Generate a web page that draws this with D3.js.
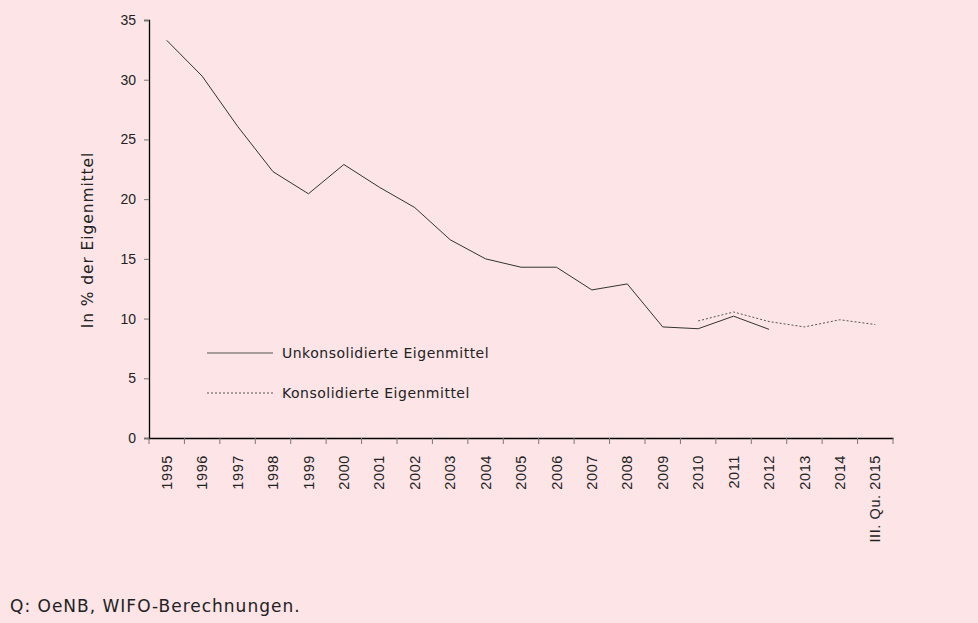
<!DOCTYPE html>
<html>
<head>
<meta charset="utf-8">
<script src="https://cdn.jsdelivr.net/npm/d3@7"></script>
<style>
  body { margin: 0; background: #fde4e6; }
  svg { display: block; font-family: "DejaVu Sans", sans-serif; }
</style>
</head>
<body>
<script>
// Data
const years = ["1995","1996","1997","1998","1999","2000","2001","2002","2003","2004",
  "2005","2006","2007","2008","2009","2010","2011","2012","2013","2014","III. Qu. 2015"];
const unkonsolidiert = [33.3, 30.3, 26.1, 22.3, 20.45, 22.9, 21.0, 19.3, 16.6, 15.0,
  14.3, 14.3, 12.4, 12.9, 9.3, 9.15, 10.2, 9.1, null, null, null];
const konsolidiert = [null, null, null, null, null, null, null, null, null, null,
  null, null, null, null, null, 9.8, 10.55, 9.75, 9.3, 9.9, 9.5];
const yTicks = [0, 5, 10, 15, 20, 25, 30, 35];

const width = 978, height = 623;
const margin = {top: 20, left: 149, right: 85, bottom: 185};

const svg = d3.select("body").append("svg")
  .attr("width", width)
  .attr("height", height);

const x = d3.scaleBand()
  .domain(years)
  .range([margin.left, width - margin.right]);

const y = d3.scaleLinear()
  .domain([0, 35])
  .range([height - margin.bottom, margin.top]);

// y axis
const yAxis = svg.append("g")
  .attr("transform", "translate(" + margin.left + ",0)")
  .call(d3.axisLeft(y).tickValues(yTicks).tickSize(5).tickPadding(8));
yAxis.select(".domain").attr("stroke", "#000").attr("stroke-width", 1.3);
yAxis.selectAll(".tick line").attr("stroke", "#777");
yAxis.selectAll("text").style("font-size", "14px").attr("fill", "#222");

// x axis, ticks at band edges
const xAxis = svg.append("g")
  .attr("transform", "translate(0," + y(0) + ")")
  .call(d3.axisBottom(x).tickSize(0).tickSizeOuter(0));
xAxis.select(".domain").attr("stroke", "#000").attr("stroke-width", 1.3);
xAxis.selectAll(".tick line").remove();
xAxis.selectAll(".edge")
  .data(years.concat(["end"]))
  .enter().append("line")
  .attr("x1", (d, i) => x.range()[0] + i * x.step())
  .attr("x2", (d, i) => x.range()[0] + i * x.step())
  .attr("y1", 0).attr("y2", 6)
  .attr("stroke", "#777");
xAxis.selectAll(".tick text")
  .style("font-size", "14.5px")
  .style("letter-spacing", "0.6px")
  .attr("fill", "#222")
  .attr("text-anchor", "end")
  .attr("dy", "0.35em")
  .attr("transform", "translate(0,17) rotate(-90)")
  .attr("x", 0).attr("y", 0);

// lines
const line = d3.line()
  .defined(d => d != null)
  .x((d, i) => x(years[i]) + x.bandwidth() / 2)
  .y(d => y(d));

svg.append("path")
  .datum(unkonsolidiert)
  .attr("fill", "none")
  .attr("stroke", "#333")
  .attr("stroke-width", 1)
  .attr("d", line);

svg.append("path")
  .datum(konsolidiert)
  .attr("fill", "none")
  .attr("stroke", "#555")
  .attr("stroke-width", 1)
  .attr("stroke-dasharray", "2,2")
  .attr("d", line);

// legend
const legend = [
  {label: "Unkonsolidierte Eigenmittel", dash: null, ly: 353},
  {label: "Konsolidierte Eigenmittel", dash: "2,2", ly: 393}
];
legend.forEach(l => {
  svg.append("line")
    .attr("x1", 207).attr("x2", 273)
    .attr("y1", l.ly).attr("y2", l.ly)
    .attr("stroke", "#555")
    .attr("stroke-dasharray", l.dash);
  svg.append("text")
    .attr("x", 282).attr("y", l.ly)
    .attr("dy", "0.35em")
    .style("font-size", "14px")
    .style("letter-spacing", "0.5px")
    .attr("fill", "#222")
    .text(l.label);
});

// y title
svg.append("text")
  .attr("transform", "translate(93,240) rotate(-90)")
  .attr("text-anchor", "middle")
  .style("font-size", "15.5px")
  .style("letter-spacing", "0.9px")
  .attr("fill", "#222")
  .text("In % der Eigenmittel");

// source
svg.append("text")
  .attr("x", 10).attr("y", 612)
  .style("font-size", "17px")
  .style("letter-spacing", "1px")
  .attr("fill", "#222")
  .text("Q: OeNB, WIFO-Berechnungen.");
</script>
</body>
</html>
